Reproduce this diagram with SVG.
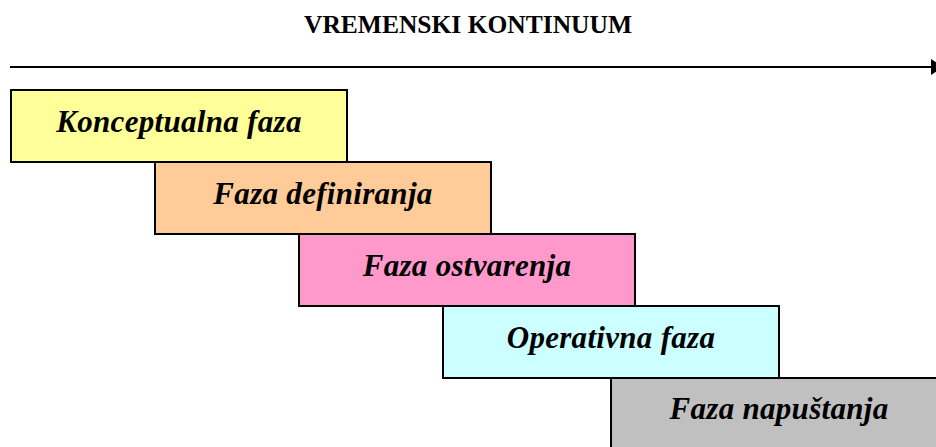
<svg xmlns="http://www.w3.org/2000/svg" width="936" height="447" viewBox="0 0 936 447">
<style>
.box{stroke:#000;stroke-width:2}
.lbl{font-family:"Liberation Serif","Times New Roman",serif;font-weight:bold;font-style:italic;font-size:31px;letter-spacing:0.3px;text-anchor:middle;fill:#000}
.title{font-family:"Liberation Serif","Times New Roman",serif;font-weight:bold;font-size:25.5px;text-anchor:middle;fill:#000}
</style>
<rect width="936" height="447" fill="#fff"/>
<text class="title" x="468" y="33">VREMENSKI KONTINUUM</text>
<g id="connectors">
<line x1="10" y1="67" x2="932" y2="67" stroke="#000" stroke-width="2"/>
<polygon points="931,59 943,67 931,75" fill="#000"/>
</g>
<g id="n1"><rect class="box" x="11" y="90" width="336" height="72" fill="#FFFF99"/><text class="lbl" x="179" y="132">Konceptualna faza</text></g>
<g id="n2"><rect class="box" x="155" y="162" width="336" height="72" fill="#FFCC99"/><text class="lbl" x="323" y="204">Faza definiranja</text></g>
<g id="n3"><rect class="box" x="299" y="234" width="336" height="72" fill="#FF99CC"/><text class="lbl" x="467" y="276">Faza ostvarenja</text></g>
<g id="n4"><rect class="box" x="443" y="306" width="336" height="72" fill="#CCFFFF"/><text class="lbl" x="611" y="348">Operativna faza</text></g>
<g id="n5"><rect class="box" x="611" y="378" width="336" height="80" fill="#C0C0C0"/><text class="lbl" x="779" y="419">Faza napuštanja</text></g>
</svg>
